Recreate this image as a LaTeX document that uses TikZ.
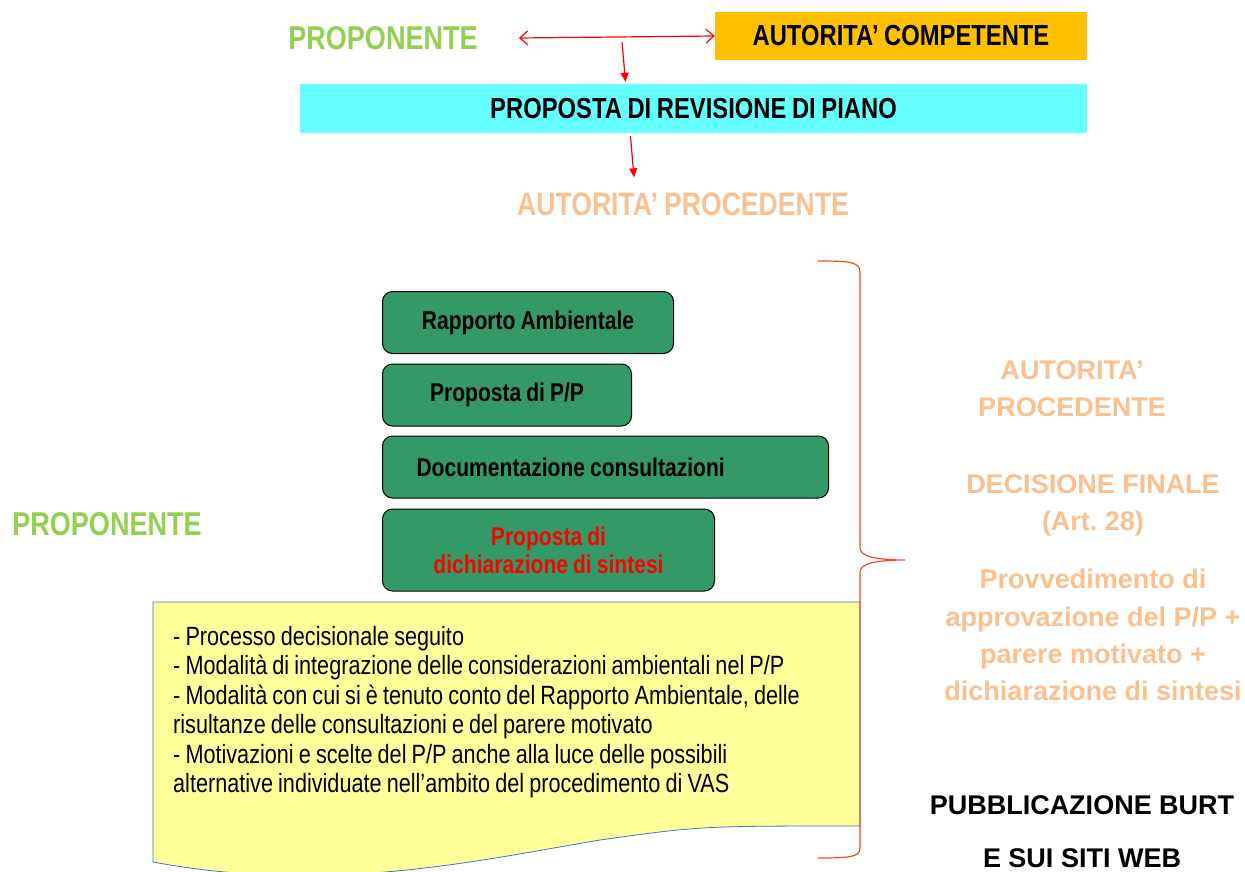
\documentclass[tikz,border=0pt]{standalone}
\usepackage{fontspec}
\setmainfont{Liberation Sans}
\newfontfamily\narrowfont[FakeStretch=0.82,WordSpace=0.85]{Liberation Sans}
\usetikzlibrary{arrows.meta}
\definecolor{propgreen}{HTML}{92D050}
\definecolor{comporange}{HTML}{FFC000}
\definecolor{revcyan}{HTML}{66FFFF}
\definecolor{procorange}{HTML}{FAC090}
\definecolor{boxgreen}{RGB}{51,153,102}
\definecolor{docyellow}{HTML}{FFFF99}
\definecolor{docblue}{HTML}{4472C4}
\definecolor{bracered}{RGB}{250,70,40}
\frenchspacing
\begin{document}
\begin{tikzpicture}[
				x=1pt, y=-1pt,
				every node/.style={inner sep=0pt},
				title/.style={font=\narrowfont\bfseries\fontsize{#1}{#1}\selectfont},
				greenbox/.style={draw=black, line width=1pt, fill=boxgreen, rounded corners=10pt,
					minimum height=62pt, anchor=west, font=\narrowfont\bfseries\fontsize{25.7}{28}\selectfont},
				sidetext/.style={text=procorange, align=center, font=\bfseries\fontsize{27}{37.2}\selectfont},
				dblarrow/.style={red, line width=1.2pt, {Straight Barb[length=8pt,width=14pt]}-{Straight Barb[length=8pt,width=14pt]}},
				downarrow/.style={red, line width=1.2pt, -{Triangle[length=9pt,width=8pt]}}
			]
			\useasboundingbox (0,0) rectangle (1245,872);
			\node[title=33, text=propgreen] (prop1) at (383,38) {PROPONENTE};
			\node[title=29, fill=comporange, minimum width=372pt, minimum height=48pt] (comp) at (901,36) {AUTORITA’ COMPETENTE};
			\node[title=29, fill=revcyan, minimum width=787pt, minimum height=49pt] (rev) at (693.5,108.5) {PROPOSTA DI REVISIONE DI PIANO};
			\node[title=32.4, text=procorange] (proc) at (683,204) {AUTORITA’ PROCEDENTE};
			\node[title=33, text=propgreen] (prop2) at (107,524) {PROPONENTE};
			\coordinate (split) at (622,42);
			\draw[dblarrow] ([xshift=41pt]prop1.east) -- (comp.west);
			\draw[downarrow] (split) -- ([xshift=-68pt,yshift=2pt]rev.north);
			\draw[downarrow] ([xshift=-63pt,yshift=-3pt]rev.south) -- ([xshift=-49pt,yshift=15pt]proc.north);
			\draw[docblue, fill=docyellow, line width=0.8pt] (860,602) -- (153,602) -- (153,862)
				.. controls (330,895) and (480,860) .. (600,840)
				.. controls (700,826) .. (860,826) -- cycle;
			\node[anchor=north west, align=left, font=\narrowfont\fontsize{26.4}{29.5}\selectfont] (motiv) at (173,626)
				{- Processo decisionale seguito\\
				- Modalità di integrazione delle considerazioni ambientali nel P/P\\
				- Modalità con cui si è tenuto conto del Rapporto Ambientale, delle\\
				risultanze delle consultazioni e del parere motivato\\
				- Motivazioni e scelte del P/P anche alla luce delle possibili\\
				alternative individuate nell’ambito del procedimento di VAS};
			\node[greenbox, minimum width=291pt] (rapp) at (382,322.5) {Rapporto Ambientale};
			\node[greenbox, minimum width=249pt] (ppp) at (382,395) {Proposta di P/P};
			\node[greenbox, text width=378pt, inner xsep=34pt, align=flush left] (docu) at (382,467) {Documentazione consultazioni};
			\node[greenbox, minimum width=332pt, minimum height=82pt, align=center, text=red] (dich) at (382,550) {Proposta di\\dichiarazione di sintesi};
			\draw[bracered, line width=1.2pt] (818,261) .. controls (850,261) and (860,262) .. (860,272) -- (860,548)
				.. controls (860,556) and (875,560) .. (905,560)
				.. controls (875,560) and (860,564) .. (860,572) -- (860,848)
				.. controls (860,857) and (850,858) .. (818,858);
			\node[sidetext] (autproc) at (1072,388.5) {AUTORITA’\\PROCEDENTE};
			\node[sidetext] (decis) at (1093,505) {DECISIONE FINALE\\(Art. 28)};
			\node[sidetext] (provv) at (1093,635) {Provvedimento di\\approvazione del P/P +\\parere motivato +\\dichiarazione di sintesi};
			\node[align=center, font=\bfseries\fontsize{27}{53}\selectfont] (burt) at (1082,831.5) {PUBBLICAZIONE BURT\\E SUI SITI WEB};
		\end{tikzpicture}
\end{document}
